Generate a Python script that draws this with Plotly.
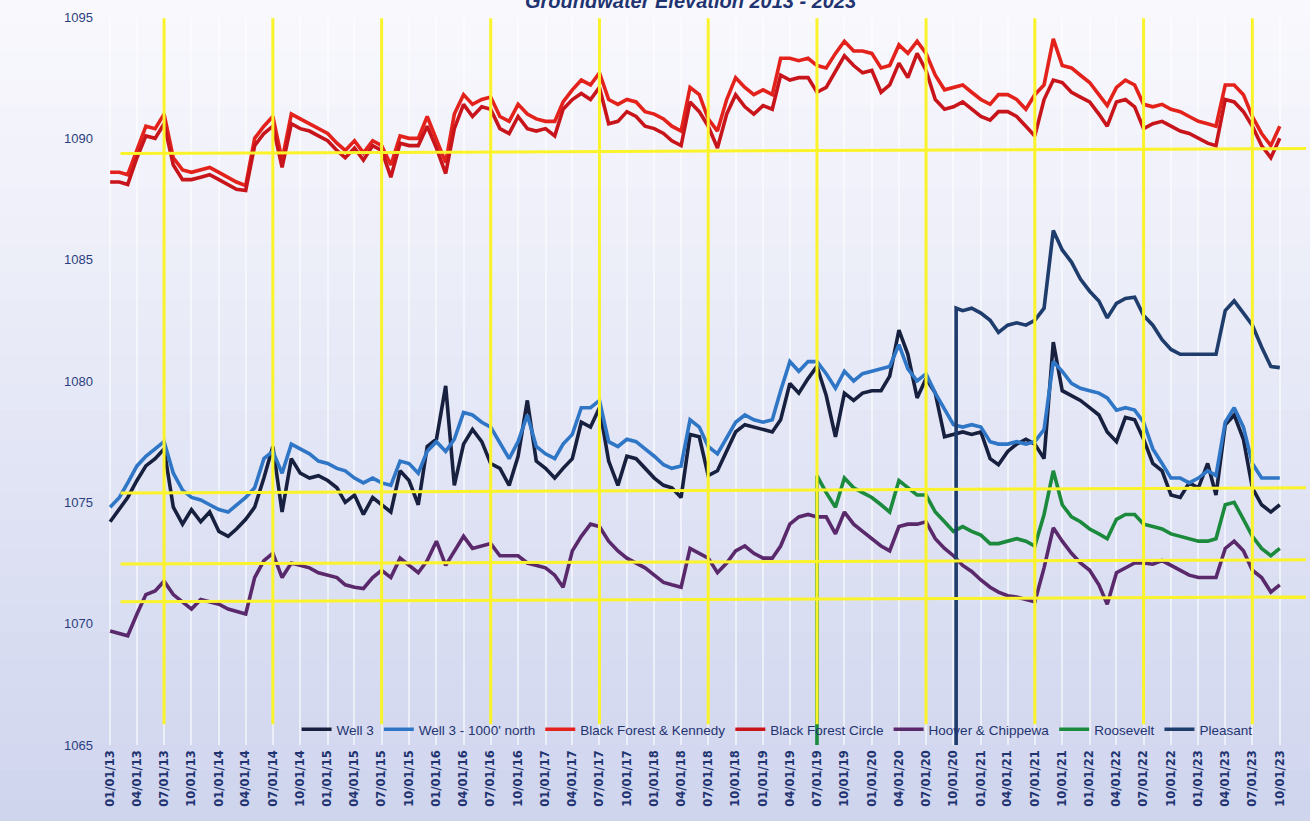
import pandas as pd
import plotly.graph_objects as go

# ---------------- data ----------------
months = pd.date_range("2013-01-01", periods=130, freq="MS")

well3 = [
    1074.2, 1074.7, 1075.2, 1075.9, 1076.5, 1076.8, 1077.2, 1074.8, 1074.1, 1074.7,
    1074.2, 1074.6, 1073.8, 1073.6, 1073.9, 1074.3, 1074.8, 1076.0, 1077.3, 1074.6,
    1076.8, 1076.2, 1076.0, 1076.1, 1075.9, 1075.6, 1075.0, 1075.3, 1074.5, 1075.2,
    1074.9, 1074.6, 1076.3, 1075.9, 1074.9, 1077.3, 1077.6, 1079.8, 1075.7, 1077.4,
    1078.0, 1077.5, 1076.6, 1076.4, 1075.7, 1076.9, 1079.2, 1076.7, 1076.4, 1076.0,
    1076.4, 1076.8, 1078.3, 1078.1, 1078.9, 1076.7, 1075.7, 1076.9, 1076.8, 1076.4,
    1076.0, 1075.7, 1075.6, 1075.2, 1077.8, 1077.7, 1076.1, 1076.3, 1077.1, 1077.9,
    1078.2, 1078.1, 1078.0, 1077.9, 1078.4, 1079.9, 1079.5, 1080.1, 1080.6, 1079.4,
    1077.7, 1079.5, 1079.2, 1079.5, 1079.6, 1079.6, 1080.2, 1082.1, 1081.1, 1079.3,
    1080.1, 1079.5, 1077.7, 1077.8, 1077.9, 1077.8, 1077.9, 1076.8, 1076.55, 1077.1,
    1077.4, 1077.6, 1077.4, 1076.8, 1081.6, 1079.6, 1079.4, 1079.2, 1078.9, 1078.6,
    1077.9, 1077.5, 1078.5, 1078.4, 1077.6, 1076.6, 1076.3, 1075.3, 1075.2, 1075.8,
    1075.6, 1076.6, 1075.3, 1078.2, 1078.6, 1077.6, 1075.6, 1074.9, 1074.6, 1074.9,
]

well3_north = [
    1074.8, 1075.2, 1075.8, 1076.5, 1076.9, 1077.2, 1077.5, 1076.2, 1075.5, 1075.2,
    1075.1, 1074.9, 1074.7, 1074.6, 1074.9, 1075.2, 1075.6, 1076.8, 1077.1, 1076.2,
    1077.4, 1077.2, 1077.0, 1076.7, 1076.6, 1076.4, 1076.3, 1076.0, 1075.8, 1076.0,
    1075.8, 1075.7, 1076.7, 1076.6, 1076.2, 1077.1, 1077.5, 1077.1, 1077.6, 1078.7,
    1078.6, 1078.3, 1078.1, 1077.45, 1076.8, 1077.5, 1078.6, 1077.3, 1077.0, 1076.8,
    1077.4, 1077.8, 1078.9, 1078.9, 1079.2, 1077.5, 1077.3, 1077.6, 1077.5, 1077.2,
    1076.9, 1076.55, 1076.4, 1076.5, 1078.4, 1078.1, 1077.3, 1077.0, 1077.7, 1078.3,
    1078.6, 1078.4, 1078.3, 1078.4, 1079.6, 1080.8, 1080.4, 1080.8, 1080.8, 1080.3,
    1079.7, 1080.4, 1080.0, 1080.3, 1080.4, 1080.5, 1080.6, 1081.5, 1080.5, 1080.0,
    1080.3, 1079.5, 1078.8, 1078.2, 1078.1, 1078.2, 1078.1, 1077.5, 1077.4, 1077.4,
    1077.5, 1077.4, 1077.5, 1078.0, 1080.8, 1080.4, 1079.9, 1079.7, 1079.6, 1079.5,
    1079.3, 1078.8, 1078.9, 1078.8, 1078.3, 1077.2, 1076.6, 1076.0, 1076.0, 1075.8,
    1076.0, 1076.3, 1076.1, 1078.3, 1078.9, 1078.1, 1076.6, 1076.0, 1076.0, 1076.0,
]

bf_kennedy = [
    1088.6, 1088.6, 1088.5, 1089.5, 1090.5, 1090.4, 1091.0, 1089.2, 1088.7, 1088.6,
    1088.7, 1088.8, 1088.6, 1088.4, 1088.2, 1088.05, 1090.0, 1090.5, 1090.9, 1089.1,
    1091.0, 1090.8, 1090.6, 1090.4, 1090.2, 1089.8, 1089.5, 1089.9, 1089.4, 1089.9,
    1089.7, 1088.9, 1090.1, 1090.0, 1090.0, 1090.9, 1089.9, 1089.0, 1091.0, 1091.8,
    1091.4, 1091.6, 1091.7, 1090.9, 1090.7, 1091.4, 1091.0, 1090.8, 1090.7, 1090.7,
    1091.5, 1092.0, 1092.4, 1092.2, 1092.7, 1091.6, 1091.4, 1091.6, 1091.5, 1091.1,
    1091.0, 1090.8, 1090.5, 1090.3, 1092.1, 1091.8, 1090.8, 1090.3, 1091.6, 1092.5,
    1092.1, 1091.8, 1092.0, 1091.8, 1093.3, 1093.3, 1093.2, 1093.3, 1093.0, 1092.9,
    1093.5, 1094.0, 1093.6, 1093.6, 1093.5, 1092.9, 1093.0, 1093.85, 1093.5, 1094.0,
    1093.5, 1092.6, 1092.0, 1092.1, 1092.2, 1091.9, 1091.6, 1091.4, 1091.8, 1091.8,
    1091.6, 1091.2, 1091.8, 1092.2, 1094.1, 1093.0, 1092.9, 1092.6, 1092.3, 1091.8,
    1091.35, 1092.1, 1092.4, 1092.2, 1091.4, 1091.3, 1091.4, 1091.2, 1091.1, 1090.9,
    1090.7, 1090.6, 1090.5, 1092.2, 1092.2, 1091.8, 1090.9, 1090.2, 1089.7, 1090.5,
]

bf_circle = [
    1088.2, 1088.2, 1088.1, 1089.2, 1090.1, 1090.0, 1090.6, 1088.9, 1088.3, 1088.3,
    1088.4, 1088.5, 1088.3, 1088.1, 1087.9, 1087.85, 1089.7, 1090.2, 1090.5, 1088.8,
    1090.6, 1090.4, 1090.3, 1090.1, 1089.9, 1089.5, 1089.2, 1089.6, 1089.1, 1089.7,
    1089.5, 1088.4, 1089.8, 1089.7, 1089.7, 1090.5, 1089.6, 1088.55, 1090.4, 1091.4,
    1090.9, 1091.3, 1091.2, 1090.4, 1090.2, 1090.9, 1090.4, 1090.3, 1090.4, 1090.1,
    1091.2, 1091.6, 1091.85, 1091.6, 1092.1, 1090.6, 1090.7, 1091.1, 1090.9, 1090.5,
    1090.4, 1090.2, 1089.9, 1089.7, 1091.5, 1091.1, 1090.5, 1089.6, 1091.0, 1091.8,
    1091.3, 1091.0, 1091.35, 1091.2, 1092.6, 1092.4, 1092.5, 1092.5, 1091.9, 1092.1,
    1092.8, 1093.4, 1093.0, 1092.7, 1092.8, 1091.9, 1092.2, 1093.1, 1092.5, 1093.5,
    1092.8, 1091.6, 1091.2, 1091.3, 1091.5, 1091.2, 1090.9, 1090.75, 1091.1, 1091.1,
    1090.9, 1090.5, 1090.1, 1091.6, 1092.4, 1092.3, 1091.9, 1091.7, 1091.5, 1091.0,
    1090.5, 1091.5, 1091.6, 1091.3, 1090.4, 1090.6, 1090.7, 1090.5, 1090.3, 1090.2,
    1090.0, 1089.8, 1089.7, 1091.6, 1091.5, 1091.1, 1090.5, 1089.7, 1089.2, 1090.0,
]

hoover = [
    1069.7, 1069.6, 1069.5, 1070.4, 1071.2, 1071.35, 1071.75, 1071.2, 1070.9, 1070.6,
    1071.0, 1070.9, 1070.8, 1070.6, 1070.5, 1070.4, 1071.9, 1072.6, 1072.9, 1071.9,
    1072.5, 1072.4, 1072.3, 1072.1, 1072.0, 1071.9, 1071.6, 1071.5, 1071.45, 1071.9,
    1072.2, 1071.9, 1072.7, 1072.4, 1072.1, 1072.6, 1073.4, 1072.4, 1073.0, 1073.6,
    1073.1, 1073.2, 1073.3, 1072.8, 1072.8, 1072.8, 1072.5, 1072.4, 1072.3, 1072.0,
    1071.5, 1073.0, 1073.6, 1074.1, 1074.0, 1073.4, 1073.0, 1072.7, 1072.5, 1072.3,
    1072.0, 1071.7, 1071.6, 1071.5, 1073.1, 1072.9, 1072.7, 1072.1, 1072.5, 1073.0,
    1073.2, 1072.9, 1072.7, 1072.7, 1073.2, 1074.1, 1074.4, 1074.5, 1074.4, 1074.4,
    1073.7, 1074.6, 1074.1, 1073.8, 1073.5, 1073.2, 1073.0, 1074.0, 1074.1, 1074.1,
    1074.2, 1073.5, 1073.1, 1072.8, 1072.4, 1072.15, 1071.8, 1071.5, 1071.3, 1071.15,
    1071.1, 1071.0, 1070.9, 1072.3, 1073.95, 1073.4, 1072.9, 1072.5, 1072.2, 1071.6,
    1070.8, 1072.1, 1072.3, 1072.5, 1072.5, 1072.45, 1072.6, 1072.4, 1072.2, 1072.0,
    1071.9, 1071.9, 1071.9, 1073.1, 1073.4, 1073.0, 1072.2, 1071.9, 1071.3, 1071.6,
]

# Roosevelt: first logged reading is 0 (drawn as the drop line), then monthly from Jul 2019
roosevelt_first = ("2019-06-28", 0.0)
roosevelt = [
    1076.1, 1075.4, 1074.8, 1076.0, 1075.6, 1075.4, 1075.2, 1074.9, 1074.6, 1075.9,
    1075.6, 1075.3, 1075.3, 1074.6, 1074.2, 1073.8, 1074.0, 1073.8, 1073.65, 1073.3,
    1073.3, 1073.4, 1073.5, 1073.4, 1073.2, 1074.5, 1076.3, 1074.9, 1074.4, 1074.2,
    1073.9, 1073.7, 1073.5, 1074.3, 1074.5, 1074.5, 1074.1, 1074.0, 1073.9, 1073.7,
    1073.6, 1073.5, 1073.4, 1073.4, 1073.5, 1074.9, 1075.0, 1074.3, 1073.6, 1073.1,
    1072.8, 1073.1,
]
roosevelt_start_month = 78

# Pleasant: first reading 0, then 1083.0 in Oct 2020, then monthly from Nov 2020
pleasant_first = [("2020-10-08", 0.0), ("2020-10-10", 1083.0)]
pleasant = [
    1082.9, 1083.0, 1082.8, 1082.5, 1082.0, 1082.3, 1082.4, 1082.3, 1082.5, 1083.0,
    1086.2, 1085.4, 1084.9, 1084.2, 1083.7, 1083.3, 1082.6, 1083.2, 1083.4, 1083.45,
    1082.7, 1082.3, 1081.7, 1081.3, 1081.1, 1081.1, 1081.1, 1081.1, 1081.1, 1082.9,
    1083.3, 1082.8, 1082.3, 1081.4, 1080.6, 1080.55,
]
pleasant_start_month = 94

# hand-drawn yellow reference marks
ref_vertical_dates = ["2013-07-01", "2014-07-01", "2015-07-01", "2016-07-01", "2017-07-01",
                      "2018-07-01", "2019-07-01", "2020-07-01", "2021-07-01", "2022-07-01",
                      "2023-07-01"]
ref_vertical_span = (1065.85, 1094.95)
ref_horizontal_levels = [(1089.37, 1089.58), (1075.38, 1075.6), (1072.46, 1072.63), (1070.9, 1071.1)]
ref_horizontal_span = ("2013-02-05", "2023-12-28")

series_names = ["Well 3", "Well 3 - 1000' north", "Black Forest & Kennedy",
                "Black Forest Circle", "Hoover & Chippewa", "Roosevelt", "Pleasant"]
colors = ["#17203f", "#2f77c6", "#e3221c", "#c8151b", "#59296b", "#1b8a3c", "#1e3c6c"]

# ---------------- figure ----------------
fig = go.Figure()
lw = 3.6

month_list = list(months)
fig.add_trace(go.Scatter(x=month_list, y=well3, name=series_names[0], mode="lines",
                         line=dict(color=colors[0], width=lw)))
fig.add_trace(go.Scatter(x=month_list, y=well3_north, name=series_names[1], mode="lines",
                         line=dict(color=colors[1], width=lw)))
fig.add_trace(go.Scatter(x=month_list, y=bf_kennedy, name=series_names[2], mode="lines",
                         line=dict(color=colors[2], width=lw)))
fig.add_trace(go.Scatter(x=month_list, y=bf_circle, name=series_names[3], mode="lines",
                         line=dict(color=colors[3], width=lw)))
fig.add_trace(go.Scatter(x=month_list, y=hoover, name=series_names[4], mode="lines",
                         line=dict(color=colors[4], width=lw)))

rx = [pd.Timestamp(roosevelt_first[0])] + month_list[roosevelt_start_month:roosevelt_start_month + len(roosevelt)]
ry = [roosevelt_first[1]] + roosevelt
fig.add_trace(go.Scatter(x=rx, y=ry, name=series_names[5], mode="lines",
                         line=dict(color=colors[5], width=lw)))

px_ = [pd.Timestamp(d) for d, _ in pleasant_first] + month_list[pleasant_start_month:pleasant_start_month + len(pleasant)]
py_ = [v for _, v in pleasant_first] + pleasant
fig.add_trace(go.Scatter(x=px_, y=py_, name=series_names[6], mode="lines",
                         line=dict(color=colors[6], width=lw)))

shapes = []
# scanned-paper background gradient (top light -> bottom lavender)
n_bands = 30
top_c = (249, 249, 253)
bot_c = (208, 213, 238)
y_lo, y_hi = -0.11, 1.03
for i in range(n_bands):
    t = i / (n_bands - 1)
    c = tuple(int(round(bot_c[k] + (top_c[k] - bot_c[k]) * t)) for k in range(3))
    shapes.append(dict(type="rect", xref="paper", yref="paper",
                       x0=-0.1, x1=1.1,
                       y0=y_lo + (y_hi - y_lo) * i / n_bands,
                       y1=y_lo + (y_hi - y_lo) * (i + 1) / n_bands + 0.002,
                       fillcolor="rgb(%d,%d,%d)" % c, line=dict(width=0), layer="below"))

yellow = "#fbf32a"
for d in ref_vertical_dates:
    shapes.append(dict(type="line", xref="x", yref="y", x0=d, x1=d,
                       y0=ref_vertical_span[0], y1=ref_vertical_span[1],
                       line=dict(color=yellow, width=3), layer="above"))
for a, b in ref_horizontal_levels:
    shapes.append(dict(type="line", xref="x", yref="y",
                       x0=ref_horizontal_span[0], x1=ref_horizontal_span[1],
                       y0=a, y1=b, line=dict(color=yellow, width=3), layer="above"))

fig.update_layout(
    width=1310, height=821,
    margin=dict(l=100, r=4, t=17, b=76),
    paper_bgcolor="#eef0f8",
    plot_bgcolor="rgba(0,0,0,0)",
    shapes=shapes,
    showlegend=True,
    legend=dict(orientation="h", x=0.163, y=0.0, xanchor="left", yanchor="bottom",
                bgcolor="rgba(0,0,0,0)",
                font=dict(family="Liberation Sans Narrow, Liberation Sans, Arial", size=13.5, color="#1f3470"),
                itemwidth=30, tracegroupgap=0),
    annotations=[dict(text="<b><i>Groundwater Elevation 2013 - 2023</i></b>", xref="paper", yref="paper",
                      x=0.49, y=1.0, yshift=16, yanchor="middle", xanchor="center", showarrow=False,
                      font=dict(family="Liberation Sans, Arial", size=20, color="#1f3470"))],
)

fig.update_xaxes(
    type="date", range=["2012-11-28", "2023-12-28"],
    tick0="2013-01-01", dtick="M3", tickformat="%m/%d/%y",
    tickangle=-90, ticks="", showline=False, zeroline=False,
    showgrid=True, gridcolor="rgba(255,255,255,0.55)", gridwidth=1.5,
    tickfont=dict(family="DejaVu Sans", size=11.5, color="#1f3470", weight="bold"),
    ticklabelstandoff=2,
)
fig.update_yaxes(
    range=[1065, 1095], tick0=1065, dtick=5, ticks="", showline=False,
    showgrid=False, zeroline=False,
    tickfont=dict(family="Liberation Sans", size=13, color="#2b3f80"),
    ticklabelstandoff=6,
)

fig.write_html("out.html", config={"displayModeBar": False},
               post_script="document.body.style.margin='0';document.body.style.overflow='hidden';")
